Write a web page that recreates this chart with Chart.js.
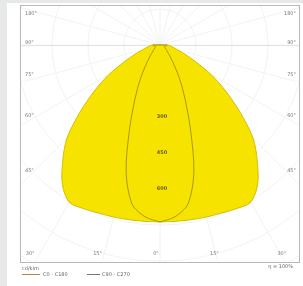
<!DOCTYPE html>
<html>
<head>
<meta charset="utf-8">
<script src="https://cdn.jsdelivr.net/npm/chart.js@4.4.0/dist/chart.umd.min.js"></script>
<style>
html,body{margin:0;padding:0;background:#e7e9e9;width:303px;height:286px;overflow:hidden;}
#wrap{position:absolute;left:7px;top:3px;width:296px;height:283px;background:#fff;}
canvas{display:block;}
</style>
</head>
<body>
<div id="wrap"><canvas id="c" width="296" height="283"></canvas></div>
<script>
// Gamma angles (degrees from nadir) and luminous intensity (cd/klm)
const gammaAngles = [0,5,10,15,20,25,30,35,40,45,50,55,60,65,70,75,80,85,90];
const c0c180 =  [737,737,739,742,745,752,756,709,630,548,435,334,246,163,110,75,55,42,33];
const c90c270 = [737,718,672,545,370,245,165,105,70,50,38,30,25,22,20,20,22,25,30];
const ringValues = [150,300,450,600,750,900,1050,1200];
const ringLabelValues = [300,450,600];
const sideAngles = [180,90,75,60,45];
const sideAngleLabels = ['180°','90°','75°','60°','45°'];
const bottomAngles = [-30,-15,0,15,30];
const bottomAngleLabels = ['30°','15°','0°','15°','30°'];
const legendUnit = 'cd/klm';
const legendNames = ['C0 - C180','C90 - C270'];
const effLabel = 'η = 100%';

function polarShape(vals){
  const pts = [];
  const rad = Math.PI/180;
  for(let i=0;i<gammaAngles.length;i++){
    const a = gammaAngles[i]*rad;
    pts.push({x: vals[i]*Math.sin(a), y: -vals[i]*Math.cos(a)});
  }
  for(let i=gammaAngles.length-1;i>=0;i--){
    const a = gammaAngles[i]*rad;
    pts.push({x: -vals[i]*Math.sin(a), y: -vals[i]*Math.cos(a)});
  }
  return pts;
}

const FONT = '"DejaVu Sans", sans-serif';

const gridPlugin = {
  id:'polarGrid',
  beforeDatasetsDraw(chart){
    const {ctx, chartArea:ca, scales:{x,y}} = chart;
    const cx = x.getPixelForValue(0), cy = y.getPixelForValue(0);
    const pxPer = x.getPixelForValue(100) - cx; // per 100 cd
    ctx.save();
    ctx.beginPath(); ctx.rect(ca.left, ca.top, ca.right-ca.left, ca.bottom-ca.top); ctx.clip();
    ctx.strokeStyle = '#f2f2f2'; ctx.lineWidth = 1;
    ringValues.forEach(v=>{
      ctx.beginPath(); ctx.arc(cx, cy, v*pxPer/100, 0, Math.PI*2); ctx.stroke();
    });
    for(let a=0;a<360;a+=15){
      const r = 2000*pxPer/100, t = a*Math.PI/180;
      ctx.beginPath(); ctx.moveTo(cx,cy); ctx.lineTo(cx + r*Math.sin(t), cy + r*Math.cos(t)); ctx.stroke();
    }
    ctx.strokeStyle = '#e2e2e2';
    ctx.beginPath(); ctx.moveTo(ca.left, cy+0.5); ctx.lineTo(ca.right, cy+0.5); ctx.stroke();
    ctx.restore();
  },
  afterDatasetsDraw(chart){
    const {ctx, chartArea:ca, scales:{x,y}} = chart;
    const cx = x.getPixelForValue(0), cy = y.getPixelForValue(0);
    ctx.save();
    ctx.strokeStyle = '#b8b8b8'; ctx.lineWidth = 1;
    ctx.strokeRect(Math.round(ca.left)+0.5, Math.round(ca.top)+0.5, Math.round(ca.right-ca.left)-1, Math.round(ca.bottom-ca.top)-1);
    ctx.font = 'bold 5px ' + FONT; ctx.fillStyle = '#6a5c10'; ctx.textAlign='center'; ctx.textBaseline='middle';
    ringLabelValues.forEach(v=>{ ctx.fillText(String(v), cx+2, y.getPixelForValue(-v)); });
    ctx.font = '5px ' + FONT; ctx.fillStyle = '#7a7a7a';
    sideAngles.forEach((a,i)=>{
      let py;
      if(a>=180) py = ca.top + 9;
      else if(a===90) py = cy - 2;
      else { const t=a*Math.PI/180; py = cy + (cx - ca.left - 8)*Math.cos(t)/Math.sin(t) - 6; }
      ctx.textAlign='left'; ctx.fillText(sideAngleLabels[i], ca.left+5, py);
      ctx.textAlign='right'; ctx.fillText(sideAngleLabels[i], ca.right-4, py);
    });
    bottomAngles.forEach((a,i)=>{
      const t=a*Math.PI/180;
      let px = cx + (ca.bottom - cy)*Math.tan(t);
      px = Math.max(ca.left+10, Math.min(ca.right-10, px));
      ctx.textAlign='center'; ctx.fillText(bottomAngleLabels[i], px - 4, ca.bottom - 9);
    });
    ctx.fillStyle = '#666'; ctx.textAlign='left';
    ctx.fillText(legendUnit, ca.left+2, ca.bottom+6);
    ctx.strokeStyle = '#c08040'; ctx.beginPath(); ctx.moveTo(ca.left+2, ca.bottom+11.5); ctx.lineTo(ca.left+20, ca.bottom+11.5); ctx.stroke();
    ctx.fillText(legendNames[0], ca.left+23, ca.bottom+11.5);
    ctx.strokeStyle = '#777'; ctx.beginPath(); ctx.moveTo(ca.left+67, ca.bottom+11.5); ctx.lineTo(ca.left+80, ca.bottom+11.5); ctx.stroke();
    ctx.fillText(legendNames[1], ca.left+82, ca.bottom+11.5);
    ctx.textAlign='right';
    ctx.fillText(effLabel, ca.right-7, ca.bottom+4);
    ctx.restore();
  }
};

new Chart(document.getElementById('c'), {
  type:'scatter',
  data:{
    datasets:[
      {label:legendNames[0], data:polarShape(c0c180), showLine:true, fill:'shape', order:2,
       backgroundColor:'#f7e300', borderColor:'#d2c000', borderWidth:1, pointRadius:0, tension:0.3},
      {label:legendNames[1], data:polarShape(c90c270), showLine:true, fill:false, order:1,
       borderColor:'#a89810', borderWidth:1, pointRadius:0, tension:0.3}
    ]
  },
  options:{
    responsive:false, animation:false, devicePixelRatio:1,
    layout:{padding:{left:13,right:3,top:2,bottom:23}},
    plugins:{legend:{display:false}, tooltip:{enabled:false}},
    scales:{
      x:{type:'linear', min:-583, max:583, display:false},
      y:{type:'linear', min:-908, max:167, display:false}
    }
  },
  plugins:[gridPlugin]
});
</script>
</body>
</html>
